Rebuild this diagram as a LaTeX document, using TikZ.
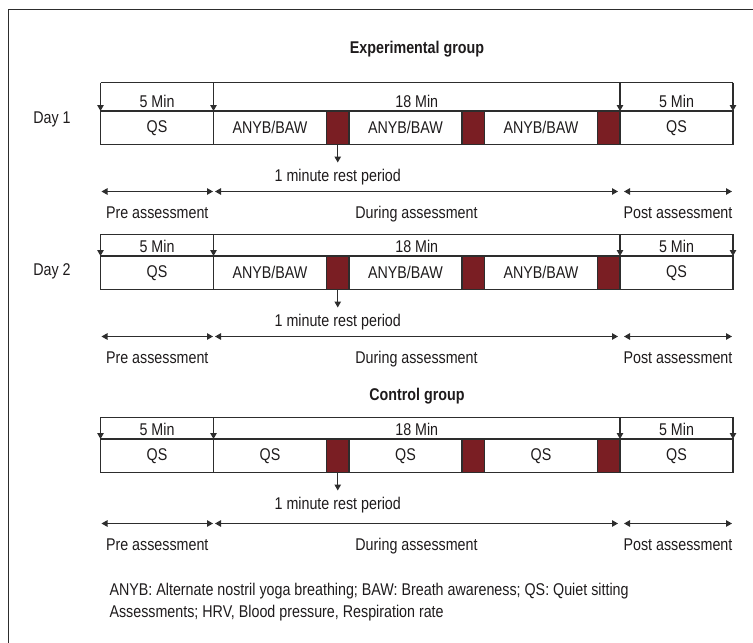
\documentclass[tikz,border=0pt]{standalone}
\usepackage{fontspec}
\setmainfont{Liberation Sans}[FakeStretch=0.84]
\usetikzlibrary{calc,positioning}
\usetikzlibrary{arrows.meta}
\definecolor{restred}{RGB}{122,30,35}
\definecolor{linegray}{RGB}{45,45,45}
\definecolor{textgray}{RGB}{30,27,28}
\tikzset{>={Triangle[width=6.5pt,length=6pt]}}
\newcommand{\anyb}{ANYB/BAW}

\begin{document}
\begin{tikzpicture}[x=1pt,y=-1pt,color=linegray,line width=1.1pt]
  \tikzstyle{txt} = [inner sep=0pt, text=textgray, font=\fontsize{17}{20}\selectfont]
  \tikzstyle{cell} = [draw=linegray, line width=1.2pt, inner sep=0pt, outer sep=0pt, minimum height=33.5pt, minimum width=113pt, text=textgray, font=\fontsize{17}{20}\selectfont]
  \tikzstyle{rest} = [cell, fill=restred, minimum width=22.5pt]

  \useasboundingbox (0,0) rectangle (753,643);
  \draw[line width=1pt] (753,9) -- (8,9) -- (8,643);

  \node[txt, anchor=base, font=\bfseries\fontsize{17}{20}\selectfont] (exptitle) at (417,53) {Experimental group};
  \node[txt, anchor=base, font=\bfseries\fontsize{17}{20}\selectfont] (ctltitle) at (417,400) {Control group};
  \node[txt, anchor=base] (day1) at (52,123) {Day 1};
  \node[txt, anchor=base] (day2) at (52,275) {Day 2};

  % one timeline per row
  \foreach \r/\t/\m/\g/\act in {d1/82.7/111/47/\anyb, d2/234.3/256/47/\anyb, cg/417.3/439/51/QS} {
    \node[cell, anchor=north west] (\r q0) at (100.5,\m) {QS};
    \node[cell, right=0pt of \r q0] (\r q1) {\act};
    \node[rest, right=0pt of \r q1] (\r r1) {};
    \node[cell, right=0pt of \r r1] (\r q2) {\act};
    \node[rest, right=0pt of \r q2] (\r r2) {};
    \node[cell, right=0pt of \r r2] (\r q3) {\act};
    \node[rest, right=0pt of \r q3] (\r r3) {};
    \node[cell, right=0pt of \r r3] (\r q4) {QS};

    \coordinate (\r tl) at (100.5,\t);
    \coordinate (\r tr) at (733,\t);
    \draw[line width=1.2pt] (\r tl) -- (\r tr);
    \draw[->] (\r tl) -- (\r q0.north west);
    \draw[->] (\r q1.north west |- \r tl) -- (\r q1.north west);
    \draw[->] (\r q4.north west |- \r tl) -- (\r q4.north west);
    \draw[->] (\r tr) -- (\r q4.north east);
    \node[txt, anchor=base] (\r mina) at ($(\r q0.north)+(0,-4)$) {5 Min};
    \node[txt, anchor=base] (\r minb) at ($(\r q1.north west)!.5!(\r q4.north west)+(0,-4)$) {18 Min};
    \node[txt, anchor=base] (\r minc) at ($(\r q4.north)+(0,-4)$) {5 Min};

    \coordinate (\r rend) at ($(\r r1.south)+(0,18)$);
    \draw[->] (\r r1.south) -- (\r rend);
    \node[txt, anchor=base] (\r restlbl) at ($(\r rend)+(0,19)$) {1 minute rest period};

    \coordinate (\r a0) at ($(\r q0.south west)+(1,\g)$);
    \coordinate (\r a1) at ($(\r q1.south west)+(-0.5,\g)$);
    \coordinate (\r a2) at ($(\r q1.south west)+(1.5,\g)$);
    \coordinate (\r a3) at ($(\r q4.south west)+(-2,\g)$);
    \coordinate (\r a4) at ($(\r q4.south west)+(4,\g)$);
    \coordinate (\r a5) at ($(\r q4.south east)+(-1,\g)$);
    \draw[<->] (\r a0) -- (\r a1);
    \draw[<->] (\r a2) -- (\r a3);
    \draw[<->] (\r a4) -- (\r a5);
    \node[txt, anchor=base] (\r pre) at ($(\r a0)!.5!(\r a1)+(0,27)$) {Pre assessment};
    \node[txt, anchor=base] (\r during) at ($(\r a2)!.5!(\r a3)+(0,27)$) {During assessment};
    \node[txt, anchor=base] (\r post) at ($(\r a4)!.5!(\r a5)+(0,27)$) {Post assessment};
  }

  \node[txt, anchor=base west] (note1) at (109,595) {ANYB: Alternate nostril yoga breathing; BAW: Breath awareness; QS: Quiet sitting};
  \node[txt, anchor=base west] (note2) at (109,617) {Assessments; HRV, Blood pressure, Respiration rate};
\end{tikzpicture}
\end{document}
